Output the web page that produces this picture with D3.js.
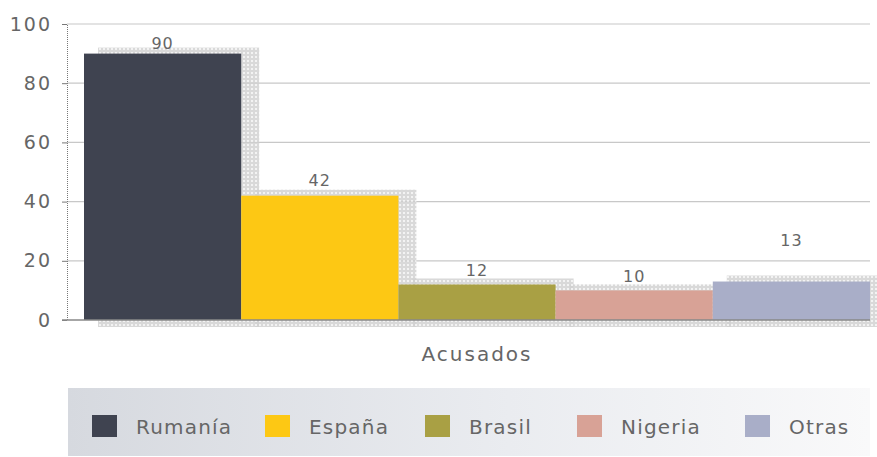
<!DOCTYPE html>
<html>
<head>
<meta charset="utf-8">
<script src="https://cdn.jsdelivr.net/npm/d3@7"></script>
<style>
  body { margin: 0; background: #fff; }
  text { font-family: "DejaVu Sans", sans-serif; fill: #666; }
</style>
</head>
<body>
<div class="chart"></div>
<script>
var categories = ["Rumanía", "España", "Brasil", "Nigeria", "Otras"];
var values = [90, 42, 12, 10, 13];
var colors = ["#3f4350", "#fdc814", "#a9a044", "#d8a296", "#a9aec8"];
var yTicks = [0, 20, 40, 60, 80, 100];
var groupLabel = "Acusados";

var width = 877, height = 457;
var margin = {top: 24, right: 7, bottom: 137, left: 67};
var plotW = width - margin.left - margin.right;
var plotH = height - margin.top - margin.bottom;

var y = d3.scaleLinear().domain([0, 100]).range([plotH, 0]);
var x = d3.scaleBand().domain(categories).range([17, plotW]).padding(0);

var svg = d3.select(".chart").append("svg")
  .attr("width", width)
  .attr("height", height);

var defs = svg.append("defs");
var dots = defs.append("pattern")
  .attr("id", "dots")
  .attr("width", 4).attr("height", 4)
  .attr("patternUnits", "userSpaceOnUse");
dots.append("rect").attr("width", 4).attr("height", 4).attr("fill", "#d0d0d0");
dots.append("rect").attr("width", 2).attr("height", 2).attr("fill", "#f0f0f0");

var legendGrad = defs.append("linearGradient").attr("id", "lg");
legendGrad.append("stop").attr("offset", "0%").attr("stop-color", "#d6d9df");
legendGrad.append("stop").attr("offset", "55%").attr("stop-color", "#eaecf0");
legendGrad.append("stop").attr("offset", "100%").attr("stop-color", "#f9f9fa");

var g = svg.append("g")
  .attr("transform", "translate(" + margin.left + "," + margin.top + ")");

// grid lines
g.selectAll(".grid")
  .data(yTicks.filter(function(d) { return d > 0; }))
  .enter().append("line")
    .attr("x1", 0).attr("x2", plotW)
    .attr("y1", function(d) { return y(d); })
    .attr("y2", function(d) { return y(d); })
    .attr("stroke", "#c8c8c8")
    .attr("stroke-width", 1.2);

// shadows
g.selectAll(".shadow")
  .data(values)
  .enter().append("rect")
    .attr("x", function(d, i) { return x(categories[i]) + 14; })
    .attr("y", function(d) { return y(d) - 6; })
    .attr("width", x.bandwidth() + 4)
    .attr("height", function(d) { return plotH - y(d) + 13; })
    .attr("fill", "url(#dots)")
    .attr("opacity", 0.8);

// bars
g.selectAll(".bar")
  .data(values)
  .enter().append("rect")
    .attr("x", function(d, i) { return x(categories[i]); })
    .attr("y", function(d) { return y(d); })
    .attr("width", x.bandwidth())
    .attr("height", function(d) { return plotH - y(d); })
    .attr("fill", function(d, i) { return colors[i]; });

// value labels
var labelLift = [5, 10, 8, 8, 36];
g.selectAll(".val")
  .data(values)
  .enter().append("text")
    .attr("x", function(d, i) { return x(categories[i]) + x.bandwidth() / 2; })
    .attr("y", function(d, i) { return y(d) - labelLift[i]; })
    .attr("text-anchor", "middle")
    .style("font-size", "16px")
    .style("letter-spacing", "1px")
    .text(function(d) { return d; });

// axes
var yAxis = d3.axisLeft(y).tickValues(yTicks).tickSize(5).tickPadding(10);
var gy = g.append("g").call(yAxis);
gy.select(".domain").attr("stroke", "#777").attr("stroke-dasharray", "1,1");
gy.selectAll(".tick line").attr("stroke", "#777");
gy.selectAll(".tick text")
  .style("font-size", "19px")
  .style("font-family", "DejaVu Sans, sans-serif")
  .style("letter-spacing", "2px")
  .attr("fill", "#6e6e6e");

g.append("line")
  .attr("x1", -5).attr("x2", plotW)
  .attr("y1", plotH).attr("y2", plotH)
  .attr("stroke", "#888").attr("stroke-width", 1.5);

g.append("text")
  .attr("x", (17 + plotW) / 2)
  .attr("y", plotH + 41)
  .attr("text-anchor", "middle")
  .style("font-size", "20px")
  .style("letter-spacing", "2px")
  .text(groupLabel);

// legend
var legend = svg.append("g").attr("transform", "translate(68,388)");
legend.append("rect")
  .attr("width", 802).attr("height", 68)
  .attr("fill", "url(#lg)");

var itemX = [24, 197, 357, 509, 677];
var item = legend.selectAll(".item")
  .data(categories)
  .enter().append("g")
    .attr("transform", function(d, i) { return "translate(" + itemX[i] + ",27)"; });
item.append("rect")
  .attr("width", 25).attr("height", 22)
  .attr("fill", function(d, i) { return colors[i]; });
item.append("text")
  .attr("x", 44).attr("y", 19)
  .style("font-size", "20px")
  .style("letter-spacing", "1.2px")
  .text(function(d) { return d; });
</script>
</body>
</html>
